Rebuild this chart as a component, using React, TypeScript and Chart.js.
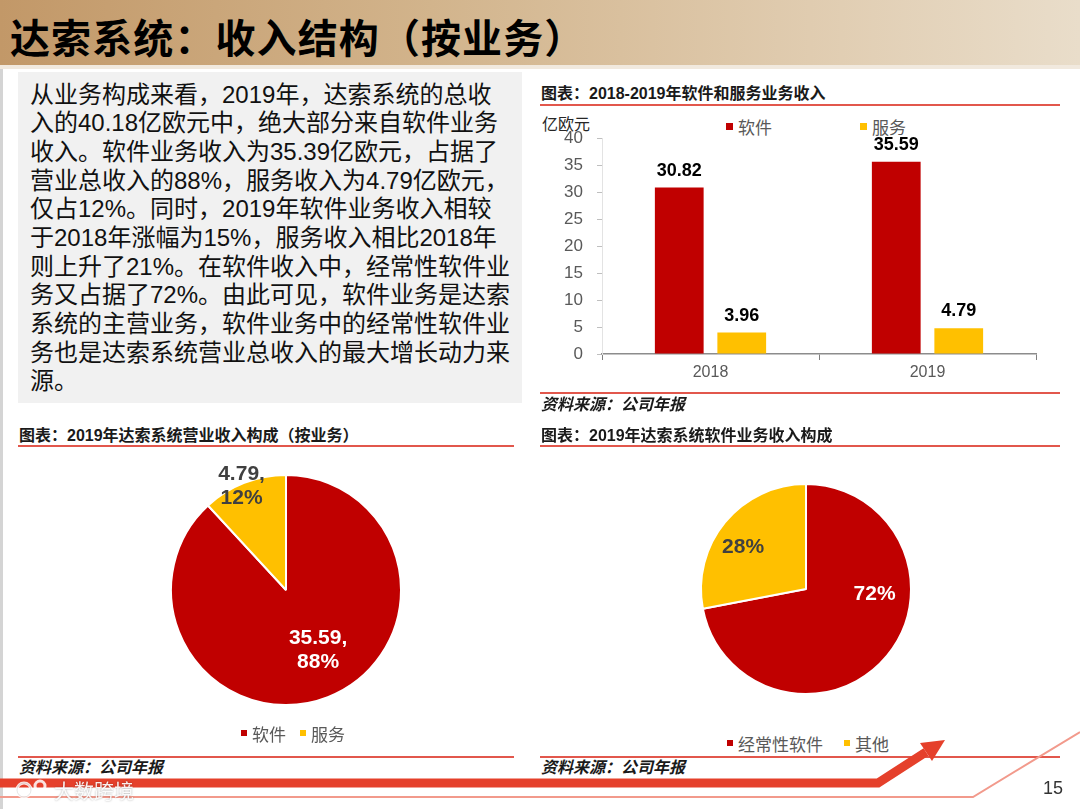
import React, { useEffect, useRef } from 'react';
import { Chart, registerables } from 'chart.js';

Chart.register(...registerables);

// ---------- data ----------
const barCategories = ['2018', '2019'];
const barSeriesNames = ['软件', '服务'];
const softwareRevenue = [30.82, 35.59];
const serviceRevenue = [3.96, 4.79];
const yAxisMin = 0;
const yAxisMax = 40;
const yAxisStep = 5;

const bizLabels = ['软件', '服务'];
const bizValues = [35.59, 4.79];

const softLabels = ['经常性软件', '其他'];
const softShares = [72, 28];

const introLines = [
  '从业务构成来看，2019年，达索系统的总收',
  '入的40.18亿欧元中，绝大部分来自软件业务',
  '收入。软件业务收入为35.39亿欧元，占据了',
  '营业总收入的88%，服务收入为4.79亿欧元，',
  '仅占12%。同时，2019年软件业务收入相较',
  '于2018年涨幅为15%，服务收入相比2018年',
  '则上升了21%。在软件收入中，经常性软件业',
  '务又占据了72%。由此可见，软件业务是达索',
  '系统的主营业务，软件业务中的经常性软件业',
  '务也是达索系统营业总收入的最大增长动力来',
  '源。',
];

// ---------- styles ----------
const RED = '#C00000';
const YELLOW = '#FFC000';
const LINE_RED = '#E2574C';
const FONT = "'Liberation Sans', 'Noto Sans CJK SC', sans-serif";

function BarChart() {
  const ref = useRef<HTMLCanvasElement>(null);
  useEffect(() => {
    const valueLabels = {
      id: 'valueLabels',
      afterDatasetsDraw(chart: any) {
        const ctx = chart.ctx;
        ctx.save();
        ctx.font = `bold 18px ${FONT}`;
        ctx.fillStyle = '#000';
        ctx.textAlign = 'center';
        ctx.textBaseline = 'middle';
        chart.data.datasets.forEach((ds: any, i: number) => {
          const meta = chart.getDatasetMeta(i);
          meta.data.forEach((el: any, j: number) => {
            ctx.fillText(Number(ds.data[j]).toFixed(2), el.x, el.y - 17);
          });
        });
        ctx.restore();
      },
    };
    const chart = new Chart(ref.current as HTMLCanvasElement, {
      type: 'bar',
      data: {
        labels: barCategories,
        datasets: [
          {
            label: barSeriesNames[0],
            data: softwareRevenue,
            backgroundColor: RED,
            categoryPercentage: 0.576,
            barPercentage: 0.78,
          },
          {
            label: barSeriesNames[1],
            data: serviceRevenue,
            backgroundColor: YELLOW,
            categoryPercentage: 0.576,
            barPercentage: 0.78,
          },
        ],
      },
      options: {
        animation: false,
        responsive: true,
        maintainAspectRatio: false,
        layout: { padding: { top: 30, right: 14, left: 0, bottom: 0 } },
        plugins: { legend: { display: false }, tooltip: { enabled: false } },
        scales: {
          x: {
            grid: {
              drawOnChartArea: false,
              drawTicks: true,
              tickLength: 6,
              tickColor: '#7f7f7f',
              offset: true,
            },
            border: { display: true, color: '#8c8c8c', width: 1.5 },
            ticks: { color: '#595959', font: { family: FONT, size: 16 }, padding: 3 },
            afterFit: (s: any) => {
              s.height = 46;
            },
          },
          y: {
            min: yAxisMin,
            max: yAxisMax,
            ticks: {
              stepSize: yAxisStep,
              color: '#595959',
              font: { family: FONT, size: 17 },
              padding: 14,
            },
            grid: {
              drawOnChartArea: false,
              drawTicks: true,
              tickLength: 5,
              tickColor: '#bfbfbf',
            },
            border: { display: true, color: '#e3e3e3' },
            afterFit: (s: any) => {
              s.width = 67;
            },
          },
        },
      } as any,
      plugins: [valueLabels],
    });
    return () => chart.destroy();
  }, []);
  return <canvas ref={ref} />;
}

type LabelCfg = { factor: number; dx: number; dy: number; color: string };

function PieChart(props: {
  labels: string[];
  values: number[];
  radius: number;
  labelCfg: LabelCfg[];
  labelText: (i: number) => string[];
}) {
  const ref = useRef<HTMLCanvasElement>(null);
  useEffect(() => {
    const sliceLabels = {
      id: 'sliceLabels',
      afterDatasetsDraw(chart: any) {
        const ctx = chart.ctx;
        const meta = chart.getDatasetMeta(0);
        ctx.save();
        ctx.font = `bold 21px ${FONT}`;
        ctx.textAlign = 'center';
        ctx.textBaseline = 'middle';
        meta.data.forEach((arc: any, i: number) => {
          const p = arc.getProps(['x', 'y', 'startAngle', 'endAngle', 'outerRadius'], true);
          const mid = (p.startAngle + p.endAngle) / 2;
          const cfg = props.labelCfg[i];
          const cx = p.x + Math.cos(mid) * p.outerRadius * cfg.factor + cfg.dx;
          const cy = p.y + Math.sin(mid) * p.outerRadius * cfg.factor + cfg.dy;
          const lines = props.labelText(i);
          const lh = 23.5;
          ctx.fillStyle = cfg.color;
          lines.forEach((t, k) => {
            ctx.fillText(t, cx, cy + (k - (lines.length - 1) / 2) * lh);
          });
        });
        ctx.restore();
      },
    };
    const chart = new Chart(ref.current as HTMLCanvasElement, {
      type: 'pie',
      data: {
        labels: props.labels,
        datasets: [
          {
            data: props.values,
            backgroundColor: [RED, YELLOW],
            borderColor: '#ffffff',
            borderWidth: 2,
            radius: props.radius,
          } as any,
        ],
      },
      options: {
        animation: false,
        responsive: true,
        maintainAspectRatio: false,
        layout: { padding: 0 },
        plugins: { legend: { display: false }, tooltip: { enabled: false } },
      } as any,
      plugins: [sliceLabels],
    });
    return () => chart.destroy();
  }, []);
  return <canvas ref={ref} />;
}

function LegendItem(props: { x: number; y: number; color: string; text: string; size: number; box: number }) {
  return (
    <div
      style={{
        position: 'absolute',
        left: props.x,
        top: props.y - 12,
        height: 24,
        display: 'flex',
        alignItems: 'center',
        fontFamily: FONT,
        fontSize: props.size,
        color: '#595959',
        whiteSpace: 'nowrap',
      }}
    >
      <span
        style={{
          display: 'inline-block',
          width: props.box,
          height: props.box,
          background: props.color,
          marginRight: 5,
        }}
      />
      <span>{props.text}</span>
    </div>
  );
}

function SectionTitle(props: { x: number; y: number; w: number; text: string; lineY: number }) {
  return (
    <>
      <div
        style={{
          position: 'absolute',
          left: props.x,
          top: props.y - 12,
          height: 24,
          lineHeight: '24px',
          fontFamily: FONT,
          fontWeight: 'bold',
          fontSize: 16,
          color: '#1a1a1a',
          whiteSpace: 'nowrap',
        }}
      >
        {props.text}
      </div>
      <div
        style={{
          position: 'absolute',
          left: props.x - 1,
          top: props.lineY - 1,
          width: props.w,
          height: 2,
          background: LINE_RED,
        }}
      />
    </>
  );
}

function Source(props: { x: number; y: number; w: number; lineY: number }) {
  return (
    <>
      <div
        style={{
          position: 'absolute',
          left: props.x - 1,
          top: props.lineY - 1,
          width: props.w,
          height: 2,
          background: LINE_RED,
        }}
      />
      <div
        style={{
          position: 'absolute',
          left: props.x,
          top: props.y - 12,
          height: 24,
          lineHeight: '24px',
          fontFamily: FONT,
          fontWeight: 'bold',
          fontStyle: 'italic',
          fontSize: 16,
          color: '#1a1a1a',
          whiteSpace: 'nowrap',
        }}
      >
        资料来源：公司年报
      </div>
    </>
  );
}

export default function App() {
  const bizTotal = bizValues.reduce((a, b) => a + b, 0);
  const softTotal = softShares.reduce((a, b) => a + b, 0);
  return (
    <div
      style={{
        position: 'absolute',
        left: 0,
        top: 0,
        width: 1080,
        height: 809,
        overflow: 'hidden',
        background: '#ffffff',
        fontFamily: FONT,
      }}
    >
      {/* header */}
      <div
        style={{
          position: 'absolute',
          left: 0,
          top: 0,
          width: 1080,
          height: 65,
          background: 'linear-gradient(90deg, #c29868 0%, #d2b48c 40%, #e0ccb0 75%, #e9ddca 100%)',
        }}
      />
      <div style={{ position: 'absolute', left: 0, top: 65, width: 1080, height: 4, background: '#f1e9de' }} />
      <div
        style={{
          position: 'absolute',
          left: 10,
          top: 10,
          height: 52,
          display: 'flex',
          alignItems: 'center',
          fontFamily: "'Noto Sans CJK SC', sans-serif",
          fontWeight: 'bold',
          fontSize: 40,
          letterSpacing: 1.1,
          color: '#000',
          whiteSpace: 'nowrap',
        }}
      >
        达索系统：收入结构（按业务）
      </div>
      <div style={{ position: 'absolute', left: 0, top: 69, width: 3, height: 740, background: '#d4d4d4' }} />

      {/* text box */}
      <div
        style={{
          position: 'absolute',
          left: 18,
          top: 72,
          width: 504,
          height: 331,
          background: '#f1f1f1',
        }}
      />
      <div style={{ position: 'absolute', left: 30, top: 80.5 }}>
        {introLines.map((t, i) => (
          <div
            key={i}
            style={{
              height: 28.7,
              lineHeight: '28.7px',
              fontSize: 24,
              color: '#111',
              whiteSpace: 'nowrap',
              fontFamily: FONT,
            }}
          >
            {t}
          </div>
        ))}
      </div>

      {/* bar chart */}
      <SectionTitle x={541} y={94} w={520} lineY={105} text="图表：2018-2019年软件和服务业务收入" />
      <div
        style={{
          position: 'absolute',
          left: 542,
          top: 113,
          height: 24,
          lineHeight: '24px',
          fontSize: 16,
          color: '#262626',
          whiteSpace: 'nowrap',
        }}
      >
        亿欧元
      </div>
      <LegendItem x={726} y={126} color={RED} text={barSeriesNames[0]} size={17} box={7} />
      <LegendItem x={860} y={126} color={YELLOW} text={barSeriesNames[1]} size={17} box={7} />
      <div style={{ position: 'absolute', left: 535, top: 108, width: 515, height: 292 }}>
        <BarChart />
      </div>
      <Source x={541} y={405} w={520} lineY={393} />

      {/* pie 1 */}
      <SectionTitle x={19} y={436} w={496} lineY={446} text="图表：2019年达索系统营业收入构成（按业务）" />
      <div style={{ position: 'absolute', left: 146, top: 450, width: 280, height: 280 }}>
        <PieChart
          labels={bizLabels}
          values={bizValues}
          radius={115}
          labelCfg={[
            { factor: 0.6, dx: 7, dy: -4, color: '#ffffff' },
            { factor: 0.99, dx: -3, dy: 2, color: '#404040' },
          ]}
          labelText={(i) => [`${bizValues[i]},`, `${Math.round((bizValues[i] / bizTotal) * 100)}%`]}
        />
      </div>
      <LegendItem x={241} y={733} color={RED} text={bizLabels[0]} size={17} box={6} />
      <LegendItem x={300} y={733} color={YELLOW} text={bizLabels[1]} size={17} box={6} />
      <Source x={19} y={768} w={496} lineY={757} />

      {/* pie 2 */}
      <SectionTitle x={541} y={436} w={520} lineY={446} text="图表：2019年达索系统软件业务收入构成" />
      <div style={{ position: 'absolute', left: 666, top: 449, width: 280, height: 280 }}>
        <PieChart
          labels={softLabels}
          values={softShares}
          radius={105}
          labelCfg={[
            { factor: 0.6, dx: 20, dy: -35, color: '#ffffff' },
            { factor: 0.74, dx: -3, dy: 8, color: '#404040' },
          ]}
          labelText={(i) => [`${Math.round((softShares[i] / softTotal) * 100)}%`]}
        />
      </div>
      <LegendItem x={727} y={743} color={RED} text={softLabels[0]} size={17} box={6} />
      <LegendItem x={844} y={743} color={YELLOW} text={softLabels[1]} size={17} box={6} />
      <Source x={541} y={768} w={520} lineY={757} />

      {/* footer decoration */}
      <svg
        width={1080}
        height={809}
        style={{ position: 'absolute', left: 0, top: 0, pointerEvents: 'none' }}
      >
        <polyline points="0,797 973,797 1080,732" fill="none" stroke="#f29a8c" strokeWidth={2} />
        <polyline
          points="0,783 878,783 926,752"
          fill="none"
          stroke="#e5402b"
          strokeWidth={9}
          strokeLinejoin="miter"
        />
        <polygon points="945,740 932,761 920,743" fill="#e5402b" />
        <g opacity={0.85}>
          <circle cx={24} cy={790} r={7} fill="none" stroke="#ffffff" strokeWidth={3} />
          <circle cx={40} cy={786} r={5} fill="none" stroke="#ffffff" strokeWidth={3} />
          <circle cx={24} cy={790} r={7} fill="none" stroke="rgba(0,0,0,0.15)" strokeWidth={0.8} />
        </g>
      </svg>
      <div
        style={{
          position: 'absolute',
          left: 54,
          top: 778,
          height: 26,
          lineHeight: '26px',
          fontSize: 20,
          fontFamily: "'Noto Sans CJK SC', sans-serif",
          color: 'rgba(255,255,255,0.92)',
          textShadow: '0 0 2px rgba(0,0,0,0.35)',
          whiteSpace: 'nowrap',
        }}
      >
        大数跨境
      </div>
      <div
        style={{
          position: 'absolute',
          left: 1043,
          top: 776,
          height: 24,
          lineHeight: '24px',
          fontSize: 18,
          color: '#333',
        }}
      >
        15
      </div>
    </div>
  );
}
